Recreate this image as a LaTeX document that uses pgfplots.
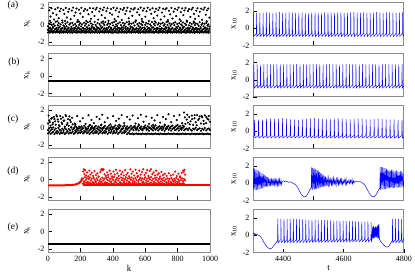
\documentclass[border=0pt]{standalone}
\usepackage{fontspec}
\setmainfont{Liberation Serif}
\usepackage{pgfplots}
\pgfplotsset{compat=1.18}
\usepackage{pgfplotstable}

\pgfplotstableread{
k a b c
0 -0.91 -0.62 -0.2
6 -0.86 -0.45 0.1
12 -0.93 -0.7 -0.35
18 -0.88 -0.52 0.2
24 -0.82 -0.66 -0.05
30 -0.94 -0.4 -0.28
36 -0.89 -0.75 0.05
42 -0.85 -0.56 -0.15
48 -0.92 -0.48 0.3
54 -0.8 -0.68 -0.4
60 -0.9 -0.6 -0.1
66 -0.87 -0.38 0.15
72 -0.95 -0.72 -0.25
78 -0.84 -0.5 0.0
84 -0.91 -0.64 -0.45
90 -0.88 -0.43 0.22
96 -0.93 -0.78 -0.12
102 -0.83 -0.55 -0.3
108 -0.9 -0.46 0.08
114 -0.86 -0.69 -0.2
120 -0.94 -0.58 0.25
126 -0.81 -0.41 -0.38
132 -0.89 -0.74 -0.02
138 -0.92 -0.53 0.12
144 -0.85 -0.63 -0.27
150 -0.95 -0.47 0.18
156 -0.87 -0.7 -0.08
162 -0.82 -0.57 -0.42
168 -0.91 -0.39 0.05
174 -0.88 -0.66 -0.18
180 -0.94 -0.51 0.28
186 -0.84 -0.76 -0.33
192 -0.9 -0.44 -0.05
198 -0.86 -0.61 0.15
204 -0.93 -0.54 -0.22
210 -0.8 -0.71 0.02
216 -0.89 -0.42 -0.4
222 -0.92 -0.65 0.2
228 -0.85 -0.49 -0.13
234 -0.95 -0.73 0.08
240 -0.87 -0.58 -0.3
246 -0.83 -0.45 0.25
252 -0.91 -0.68 -0.1
258 -0.88 -0.52 -0.44
264 -0.94 -0.62 0.12
270 -0.81 -0.4 -0.2
276 -0.9 -0.77 0.0
282 -0.86 -0.55 -0.35
288 -0.93 -0.47 0.3
294 -0.84 -0.67 -0.06
300 -0.89 -0.59 -0.25
306 -0.92 -0.43 0.16
312 -0.85 -0.72 -0.4
318 -0.95 -0.5 0.04
324 -0.87 -0.63 -0.16
330 -0.82 -0.38 0.22
336 -0.91 -0.75 -0.3
342 -0.88 -0.56 0.1
348 -0.94 -0.46 -0.09
354 -0.83 -0.69 0.27
360 -0.9 -0.53 -0.42
366 -0.86 -0.64 -0.03
372 -0.93 -0.41 0.14
378 -0.8 -0.71 -0.23
384 -0.89 -0.57 0.06
390 -0.92 -0.48 -0.37
396 -0.85 -0.66 0.19
402 -0.95 -0.6 -0.12
408 -0.87 -0.44 0.29
414 -0.84 -0.74 -0.28
420 -0.91 -0.51 0.0
426 -0.88 -0.62 -0.19
432 -0.94 -0.39 0.11
438 -0.81 -0.7 -0.41
444 -0.9 -0.55 0.23
450 -0.86 -0.47 -0.07
456 -0.93 -0.67 -0.32
462 -0.83 -0.58 0.17
468 -0.89 -0.42 -0.14
474 -0.92 -0.76 0.07
480 -0.85 -0.52 -0.26
486 -0.95 -0.63 0.26
492 -0.87 -0.45 -0.39
498 -0.82 -0.69 -0.01
504 -0.91 -0.56 0.13
510 -0.88 -0.4 -0.21
516 -0.94 -0.73 0.09
522 -0.84 -0.59 -0.34
528 -0.9 -0.49 0.2
534 -0.86 -0.65 -0.11
540 -0.93 -0.54 0.31
546 -0.8 -0.43 -0.43
552 -0.89 -0.72 0.03
558 -0.92 -0.61 -0.17
564 -0.85 -0.46 0.15
570 -0.95 -0.68 -0.29
576 -0.87 -0.53 0.05
582 -0.83 -0.41 -0.08
588 -0.91 -0.75 0.24
594 -0.88 -0.57 -0.36
600 -0.94 -0.48 -0.04
606 -0.81 -0.66 0.18
612 -0.9 -0.6 -0.24
618 -0.86 -0.44 0.1
624 -0.93 -0.71 -0.4
630 -0.84 -0.52 0.01
636 -0.89 -0.63 -0.15
642 -0.92 -0.39 0.27
648 -0.85 -0.77 -0.31
654 -0.95 -0.55 0.07
660 -0.87 -0.47 -0.1
666 -0.82 -0.67 0.21
672 -0.91 -0.58 -0.38
678 -0.88 -0.42 -0.02
684 -0.94 -0.7 0.14
690 -0.83 -0.51 -0.22
696 -0.9 -0.62 0.08
702 -0.86 -0.45 -0.44
708 -0.93 -0.74 0.19
714 -0.8 -0.56 -0.13
720 -0.89 -0.49 0.04
726 -0.92 -0.65 -0.27
732 -0.85 -0.4 0.28
738 -0.95 -0.72 -0.06
744 -0.87 -0.59 -0.35
750 -0.84 -0.46 0.12
756 -0.91 -0.68 -0.18
762 -0.88 -0.53 0.02
768 -0.94 -0.43 -0.41
774 -0.81 -0.76 0.16
780 -0.9 -0.6 -0.09
786 -0.86 -0.5 0.25
792 -0.93 -0.64 -0.3
798 -0.83 -0.41 0.06
804 -0.89 -0.71 -0.2
810 -0.92 -0.57 0.13
816 -0.85 -0.48 -0.37
822 -0.95 -0.66 0.0
828 -0.87 -0.55 -0.14
834 -0.82 -0.38 0.22
840 -0.91 -0.73 -0.26
846 -0.88 -0.61 0.09
852 -0.94 -0.45 -0.05
858 -0.84 -0.69 0.3
864 -0.9 -0.52 -0.39
870 -0.86 -0.63 -0.11
876 -0.93 -0.42 0.17
882 -0.8 -0.75 -0.23
888 -0.89 -0.58 0.05
894 -0.92 -0.47 -0.33
900 -0.85 -0.67 0.2
906 -0.95 -0.54 -0.08
912 -0.87 -0.4 0.11
918 -0.83 -0.7 -0.42
924 -0.91 -0.56 0.03
930 -0.88 -0.49 -0.16
936 -0.94 -0.65 0.26
942 -0.81 -0.44 -0.3
948 -0.9 -0.74 -0.03
954 -0.86 -0.6 0.14
960 -0.93 -0.51 -0.21
966 -0.84 -0.43 0.07
972 -0.89 -0.68 -0.36
978 -0.92 -0.57 0.18
984 -0.85 -0.46 -0.12
990 -0.95 -0.72 0.01
996 -0.87 -0.53 -0.25
}\bandA

\pgfplotstableread{
k a b c
0 -0.7 -0.3 0.45
8 -0.55 -0.1 0.8
16 -0.74 -0.35 0.2
24 -0.62 -0.2 1.1
32 -0.5 0.0 0.55
40 -0.76 -0.28 0.95
48 -0.58 -0.12 0.3
56 -0.68 -0.4 1.25
64 -0.52 -0.05 0.65
72 -0.72 -0.25 0.15
80 -0.6 -0.38 1.0
88 -0.66 -0.15 0.4
96 -0.54 -0.3 0.75
104 -0.75 -0.08 0.1
112 -0.63 -0.22 1.3
120 -0.48 -0.42 0.5
128 -0.7 -0.18 0.2
136 -0.57 -0.33 0.85
144 -0.65 -0.02 0.05
152 -0.5 -0.26 0.35
160 -0.73 -0.14 -0.05
168 -0.6 -0.37 0.15
176 -0.46 -0.2 0.02
184 -0.68 -0.3 -0.1
192 -0.55 -0.1 0.1
200 -0.62 -0.34 -0.02
208 -0.5 -0.22 0.12
216 -0.7 -0.06 -0.12
224 -0.58 -0.4 0.2
232 -0.45 -0.16 0.0
240 -0.66 -0.28 -0.15
248 -0.53 -0.12 0.08
256 -0.75 -0.35 0.22
264 -0.6 -0.2 -0.06
272 -0.48 -0.04 0.14
280 -0.69 -0.32 -0.1
288 -0.56 -0.18 0.05
296 -0.64 -0.41 0.18
304 -0.5 -0.09 -0.14
312 -0.72 -0.25 0.1
320 -0.59 -0.36 -0.03
328 -0.47 -0.13 0.24
336 -0.67 -0.29 -0.08
344 -0.54 -0.07 0.06
352 -0.63 -0.38 0.16
360 -0.49 -0.21 -0.12
368 -0.74 -0.11 0.02
376 -0.57 -0.33 0.2
384 -0.61 -0.17 -0.05
392 -0.46 -0.27 0.11
400 -0.7 -0.03 -0.16
408 -0.55 -0.39 0.07
416 -0.65 -0.14 0.23
424 -0.51 -0.3 -0.09
432 -0.73 -0.19 0.13
440 -0.58 -0.06 0.0
448 -0.48 -0.34 0.17
456 -0.68 -0.23 -0.13
464 -0.56 -0.1 0.09
472 -0.62 -0.37 0.21
480 -0.5 -0.15 -0.04
488 -0.76 -0.26 0.12
496 -0.6 -0.08 -0.1
504 -0.72 -0.4 0.04
512 -0.75 -0.2 0.19
520 -0.7 -0.12 -0.07
528 -0.77 -0.31 0.08
536 -0.73 -0.05 0.15
544 -0.68 -0.27 -0.12
552 -0.76 -0.16 0.03
560 -0.71 -0.36 0.2
568 -0.74 -0.09 -0.05
576 -0.78 -0.24 0.1
584 -0.69 -0.33 -0.14
592 -0.75 -0.13 0.06
600 -0.72 -0.02 0.22
608 -0.77 -0.29 -0.08
616 -0.7 -0.18 0.13
624 -0.74 -0.38 0.01
632 -0.76 -0.07 -0.11
640 -0.71 -0.22 0.17
648 -0.78 -0.34 -0.02
656 -0.73 -0.11 0.09
664 -0.69 -0.26 0.24
672 -0.75 -0.04 -0.13
680 -0.72 -0.35 0.05
688 -0.77 -0.19 0.14
696 -0.7 -0.09 -0.06
704 -0.74 -0.3 0.11
712 -0.76 -0.14 0.0
720 -0.71 -0.39 0.19
728 -0.78 -0.21 -0.1
736 -0.73 -0.06 0.07
744 -0.69 -0.28 0.16
752 -0.75 -0.12 -0.04
760 -0.72 -0.37 0.12
768 -0.77 -0.17 0.21
776 -0.7 -0.03 -0.09
784 -0.74 -0.32 0.04
792 -0.76 -0.23 0.18
800 -0.71 -0.1 -0.12
808 -0.78 -0.36 0.08
816 -0.73 -0.15 0.15
824 -0.75 -0.27 -0.03
832 -0.7 -0.05 0.23
840 -0.77 -0.33 0.1
848 -0.72 -0.2 0.4
856 -0.76 -0.12 0.9
864 -0.71 -0.3 0.55
872 -0.74 -0.08 1.2
880 -0.78 -0.25 0.7
888 -0.7 -0.36 1.35
896 -0.75 -0.14 0.3
904 -0.73 -0.22 1.05
912 -0.77 -0.04 0.6
920 -0.71 -0.31 1.4
928 -0.76 -0.18 0.85
936 -0.72 -0.1 1.25
944 -0.75 -0.38 0.45
952 -0.7 -0.16 1.15
960 -0.78 -0.26 0.75
968 -0.73 -0.06 1.38
976 -0.76 -0.34 0.5
984 -0.71 -0.2 1.0
992 -0.74 -0.12 1.3
1000 -0.77 -0.28 0.65
}\bandC

\pgfplotstableread{
k a b
216 -0.5 0.1
222 -0.42 -0.2
228 -0.58 0.25
234 -0.35 -0.05
240 -0.55 0.15
246 -0.45 -0.28
252 -0.6 0.05
258 -0.38 0.22
264 -0.52 -0.12
270 -0.48 0.08
276 -0.61 -0.3
282 -0.4 0.18
288 -0.56 -0.02
294 -0.33 -0.22
300 -0.5 0.12
306 -0.59 -0.08
312 -0.44 0.27
318 -0.54 -0.18
324 -0.37 0.03
330 -0.6 -0.26
336 -0.47 0.2
342 -0.53 -0.1
348 -0.41 0.1
354 -0.58 -0.32
360 -0.46 0.16
366 -0.36 -0.04
372 -0.55 0.24
378 -0.49 -0.16
384 -0.62 0.06
390 -0.39 -0.24
396 -0.51 0.14
402 -0.57 -0.06
408 -0.43 0.28
414 -0.6 -0.2
420 -0.34 0.0
426 -0.52 0.19
432 -0.48 -0.13
438 -0.59 0.09
444 -0.4 -0.29
450 -0.55 0.22
456 -0.45 -0.07
462 -0.61 0.13
468 -0.37 -0.19
474 -0.5 0.04
480 -0.56 0.26
486 -0.42 -0.11
492 -0.58 0.11
498 -0.47 -0.27
504 -0.35 0.17
510 -0.54 -0.03
516 -0.6 0.23
522 -0.44 -0.15
528 -0.51 0.07
534 -0.38 -0.23
540 -0.57 0.15
546 -0.46 -0.05
552 -0.62 0.29
558 -0.41 -0.17
564 -0.53 0.02
570 -0.49 0.2
576 -0.59 -0.1
582 -0.36 0.12
588 -0.55 -0.25
594 -0.45 0.06
600 -0.6 0.24
606 -0.39 -0.14
612 -0.52 0.1
618 -0.48 -0.21
624 -0.58 0.18
630 -0.43 -0.01
636 -0.35 0.27
642 -0.56 -0.12
648 -0.5 0.08
654 -0.61 -0.28
660 -0.4 0.16
666 -0.54 -0.06
672 -0.46 0.21
678 -0.59 -0.18
684 -0.37 0.03
690 -0.53 0.13
696 -0.47 -0.24
702 -0.6 0.05
708 -0.42 -0.09
714 -0.55 0.19
720 -0.5 -0.2
726 -0.62 0.0
732 -0.38 -0.3
738 -0.57 0.11
744 -0.44 -0.15
750 -0.51 0.07
756 -0.6 -0.26
762 -0.41 0.14
768 -0.56 -0.04
774 -0.48 -0.22
780 -0.59 0.09
786 -0.36 -0.12
792 -0.53 0.17
798 -0.45 -0.27
804 -0.61 0.02
810 -0.4 -0.16
816 -0.55 0.22
822 -0.49 -0.08
828 -0.58 0.12
834 -0.43 -0.2
840 -0.52 0.06
846 -0.6 -0.1
}\bandD

\pgfplotsset{
  base/.style={scale only axis, height=43pt,
    axis line style={black!45, line width=1pt},
    tick style={black, line width=0.5pt},
    tick align=inside, xtick pos=bottom, ytick pos=left,
    major tick length=4pt,
    tick label style={font=\fontsize{8}{9}\selectfont},
    label style={font=\fontsize{9}{10}\selectfont},
    /pgf/number format/assume math mode=true,
    /pgf/number format/1000 sep={},
    ytick={-2,0,2}},
  L/.style={base, width=162pt, xmin=0, xmax=1000, ymin=-2.4, ymax=2.5,
    xtick={0,200,...,1000},
    ylabel={x\textsubscript{k}},
    ylabel style={at={(axis description cs:-0.13,0.5)}, anchor=center},
    xlabel style={at={(axis description cs:0.5,-0.36)}, anchor=center}},
  R/.style={base, width=151pt, xmin=4300, xmax=4800, ymin=-2, ymax=3,
    ylabel={x\textsubscript{10}},
    ylabel style={at={(axis description cs:-0.125,0.5)}, anchor=center},
    xlabel style={at={(axis description cs:0.5,-0.36)}, anchor=center}},
  dots/.style={only marks, color=#1, mark=*, mark size=0.85pt, mark options={draw=none, fill=#1}},
  spk/.style={blue, line width=0.45pt, no marks}
}

\begin{document}
\begin{tikzpicture}
\tikzset{lab/.style={font=\fontsize{9.5}{10}\selectfont}}
\node[lab] at (13pt,-5pt) {(a)};
\node[lab] at (14pt,-62pt) {(b)};
\node[lab] at (13pt,-119pt) {(c)};
\node[lab] at (13pt,-171pt) {(d)};
\node[lab] at (13pt,-227pt) {(e)};

% ---------- (a) left
\begin{axis}[L, at={(48pt,-2.5pt)}, anchor=north west, xticklabels={}]
\addplot[dots=black] table[x=k,y=a]{\bandA};
\addplot[dots=black] table[x=k,y=b]{\bandA};
\addplot[dots=black] table[x=k,y=c]{\bandA};
\addplot[dots=black] coordinates {(8,1.6)(15,0.9)(22,1.85)(30,1.3)(37,0.55)(45,1.72)(52,1.1)(60,1.9)(66,0.7)(73,1.5)(80,1.8)(88,0.45)(95,1.65)(101,1.2)(110,1.88)(117,0.8)(125,1.45)(131,1.75)(140,0.6)(147,1.58)(155,1.92)(162,1.0)(170,1.35)(176,1.82)(184,0.5)(191,1.68)(199,1.25)(206,1.9)(214,0.85)(221,1.55)(229,1.78)(236,0.4)(243,1.62)(250,1.15)(258,1.86)(265,0.65)(272,1.4)(279,1.83)(287,0.95)(294,1.7)(301,1.9)(309,0.55)(316,1.48)(323,1.8)(331,1.05)(338,1.64)(345,1.93)(352,0.75)(360,1.52)(367,1.85)(374,0.42)(382,1.3)(389,1.77)(396,1.12)(404,1.9)(411,0.6)(418,1.6)(426,1.84)(433,0.9)(440,1.42)(447,1.76)(455,0.5)(462,1.66)(469,1.88)(477,1.18)(484,1.55)(491,1.9)(498,0.7)(506,1.47)(513,1.8)(520,0.98)(528,1.7)(535,1.87)(542,0.46)(550,1.38)(557,1.74)(564,1.08)(572,1.92)(579,0.62)(586,1.58)(593,1.82)(601,0.88)(608,1.5)(615,1.9)(623,0.4)(630,1.68)(637,1.22)(645,1.85)(652,0.72)(659,1.44)(667,1.79)(674,1.02)(681,1.63)(688,1.91)(696,0.55)(703,1.36)(710,1.8)(718,0.92)(725,1.72)(732,1.86)(740,0.48)(747,1.56)(754,1.14)(762,1.89)(769,0.68)(776,1.46)(784,1.78)(791,0.96)(798,1.66)(806,1.92)(813,0.58)(820,1.4)(828,1.83)(835,1.06)(842,1.6)(849,1.88)(857,0.44)(864,1.52)(871,1.76)(879,0.86)(886,1.7)(893,1.9)(901,1.2)(908,0.64)(915,1.57)(923,1.84)(930,0.94)(937,1.45)(945,1.8)(952,0.52)(959,1.69)(967,1.91)(974,1.1)(981,1.6)(989,1.82)(996,0.78)(12,0.4)(57,0.35)(105,0.38)(190,0.32)(260,0.36)(340,0.34)(420,0.4)(500,0.33)(580,0.37)(660,0.35)(740,0.32)(820,0.38)(900,0.34)(980,0.36)};
\end{axis}

% ---------- (b) left
\begin{axis}[L, at={(48pt,-54pt)}, anchor=north west, xticklabels={}]
\addplot[black, line width=2.4pt, no marks] coordinates {(0,-0.6)(1000,-0.6)};
\end{axis}

% ---------- (c) left
\begin{axis}[L, at={(48pt,-105.5pt)}, anchor=north west, xticklabels={}]
\addplot[dots=black] table[x=k,y=a]{\bandC};
\addplot[dots=black] table[x=k,y=b]{\bandC};
\addplot[dots=black] table[x=k,y=c]{\bandC};
\addplot[dots=black] coordinates {(4,1.35)(12,0.6)(20,1.0)(28,0.35)(36,1.2)(44,0.7)(52,1.4)(60,0.9)(68,0.25)(76,1.3)(84,0.55)(92,1.15)(100,0.8)(108,1.42)(116,0.3)(124,0.95)(132,1.25)(140,0.62)(148,1.1)(165,0.45)(180,1.3)(198,0.7)(215,1.05)(232,0.4)(250,1.38)(268,0.85)(283,0.5)(300,1.2)(318,0.95)(335,1.45)(350,0.6)(368,1.1)(385,0.35)(402,1.3)(420,0.75)(437,1.0)(455,1.4)(470,0.5)(488,1.2)(505,0.9)(522,1.35)(540,0.45)(556,1.05)(573,1.45)(590,0.65)(607,1.25)(624,0.4)(640,1.1)(658,0.8)(675,1.4)(692,0.55)(710,1.2)(727,0.95)(744,1.5)(760,0.6)(778,1.3)(795,0.85)(812,1.42)(828,0.5)(845,1.15)(860,1.45)(875,0.35)(890,0.95)(905,1.4)(918,0.25)(933,1.0)(948,1.32)(962,0.4)(977,1.2)(990,0.9)(170,0.3)(260,0.28)(330,0.32)(440,0.3)(560,0.35)(650,0.3)(720,0.33)(800,0.28)(840,1.7)};
\end{axis}

% ---------- (d) left
\begin{axis}[L, at={(48pt,-157.5pt)}, anchor=north west, xticklabels={}]
\addplot[red, line width=2pt, no marks] coordinates {(0,-0.68)(120,-0.66)(150,-0.63)(170,-0.57)(185,-0.47)(195,-0.36)(203,-0.2)(209,0.0)(213,0.2)};
\addplot[red, line width=2pt, no marks] coordinates {(213,-0.66)(1000,-0.66)};
\addplot[dots=red] table[x=k,y=a]{\bandD};
\addplot[dots=red] table[x=k,y=b]{\bandD};
\addplot[dots=red] coordinates {(218,0.9)(221,1.15)(225,0.6)(230,1.05)(236,0.45)(242,0.8)(249,0.35)(255,1.0)(262,0.55)(270,0.75)(279,0.4)(287,0.95)(296,0.5)(305,0.7)(313,0.35)(322,0.85)(328,1.1)(333,1.2)(338,1.05)(343,1.15)(349,0.6)(357,0.4)(365,0.8)(372,0.5)(380,1.0)(388,0.65)(395,0.35)(404,0.9)(412,0.55)(420,1.1)(428,0.7)(436,0.4)(444,1.0)(452,0.6)(460,0.85)(468,0.45)(476,1.05)(484,0.55)(492,0.75)(500,0.35)(508,1.15)(516,0.65)(524,0.9)(532,0.45)(540,1.1)(548,0.7)(556,0.4)(564,1.0)(572,0.55)(580,0.85)(588,1.15)(596,0.5)(604,0.75)(612,1.05)(620,0.4)(628,0.95)(636,1.15)(644,0.6)(652,0.8)(660,0.45)(668,1.0)(676,0.55)(684,0.7)(692,0.35)(700,0.85)(710,0.5)(720,0.65)(732,0.4)(745,0.7)(758,0.45)(772,0.55)(785,0.9)(795,0.4)(805,0.65)(815,0.35)(825,0.75)(833,1.0)(838,0.85)(842,1.1)(846,0.55)};
\end{axis}

% ---------- (e) left
\begin{axis}[L, at={(48pt,-209.5pt)}, anchor=north west, xlabel={k}]
\addplot[black, line width=2.4pt, no marks] coordinates {(0,-1.45)(1000,-1.45)};
\end{axis}

% ---------- (a) right
\begin{axis}[R, at={(253pt,-2.5pt)}, anchor=north west, xtick={4500}, xticklabels={}]
\addplot[spk] coordinates {(4300,-0.65)(4300.5,-0.6)(4301,1.85)(4302.2,-0.95)(4311.3,-0.6)(4311.8,1.8)(4313,-0.95)(4322,-0.6)(4322.5,1.78)(4323.7,-0.95)(4332.8,-0.6)(4333.3,1.82)(4334.5,-0.95)(4343.5,-0.6)(4344,1.86)(4345.2,-0.95)(4354.3,-0.6)(4354.8,1.8)(4356,-0.95)(4365,-0.6)(4365.5,1.75)(4366.7,-0.95)(4375.8,-0.6)(4376.3,1.83)(4377.5,-0.95)(4386.5,-0.6)(4387,1.88)(4388.2,-0.95)(4397.3,-0.6)(4397.8,1.8)(4399,-0.95)(4408,-0.6)(4408.5,1.79)(4409.7,-0.95)(4418.8,-0.6)(4419.3,1.84)(4420.5,-0.95)(4429.5,-0.6)(4430,1.86)(4431.2,-0.95)(4440.3,-0.6)(4440.8,1.78)(4442,-0.95)(4451,-0.6)(4451.5,1.8)(4452.7,-0.95)(4461.8,-0.6)(4462.3,1.85)(4463.5,-0.95)(4472.5,-0.6)(4473,1.82)(4474.2,-0.95)(4483.3,-0.6)(4483.8,1.77)(4485,-0.95)(4494,-0.6)(4494.5,1.86)(4495.7,-0.95)(4504.8,-0.6)(4505.3,1.9)(4506.5,-0.95)(4515.5,-0.6)(4516,1.81)(4517.2,-0.95)(4526.3,-0.6)(4526.8,1.79)(4528,-0.95)(4537,-0.6)(4537.5,1.84)(4538.7,-0.95)(4547.8,-0.6)(4548.3,1.87)(4549.5,-0.95)(4558.5,-0.6)(4559,1.8)(4560.2,-0.95)(4569.3,-0.6)(4569.8,1.78)(4571,-0.95)(4580,-0.6)(4580.5,1.83)(4581.7,-0.95)(4590.8,-0.6)(4591.3,1.86)(4592.5,-0.95)(4601.5,-0.6)(4602,1.8)(4603.2,-0.95)(4612.3,-0.6)(4612.8,1.76)(4614,-0.95)(4623,-0.6)(4623.5,1.84)(4624.7,-0.95)(4633.8,-0.6)(4634.3,1.88)(4635.5,-0.95)(4644.5,-0.6)(4645,1.82)(4646.2,-0.95)(4655.3,-0.6)(4655.8,1.79)(4657,-0.95)(4666,-0.6)(4666.5,1.85)(4667.7,-0.95)(4676.8,-0.6)(4677.3,1.8)(4678.5,-0.95)(4687.5,-0.6)(4688,1.77)(4689.2,-0.95)(4698.3,-0.6)(4698.8,1.83)(4700,-0.95)(4709,-0.6)(4709.5,1.87)(4710.7,-0.95)(4719.8,-0.6)(4720.3,1.81)(4721.5,-0.95)(4730.5,-0.6)(4731,1.79)(4732.2,-0.95)(4741.3,-0.6)(4741.8,1.84)(4743,-0.95)(4752,-0.6)(4752.5,1.86)(4753.7,-0.95)(4762.8,-0.6)(4763.3,1.8)(4764.5,-0.95)(4773.5,-0.6)(4774,1.78)(4775.2,-0.95)(4784.3,-0.6)(4784.8,1.82)(4786,-0.95)(4795,-0.6)(4795.5,1.85)(4796.7,-0.95)(4800,-0.75)};
\end{axis}

% ---------- (b) right
\begin{axis}[R, at={(253pt,-54pt)}, anchor=north west, xtick={4500}, xticklabels={}]
\addplot[spk] coordinates {(4300,-0.8)(4302.5,-0.62)(4303,1.78)(4304.2,-0.95)(4313.4,-0.62)(4313.9,1.8)(4315.1,-0.95)(4324.3,-0.62)(4324.8,1.76)(4326,-0.95)(4335.2,-0.62)(4335.7,1.79)(4336.9,-0.95)(4346.1,-0.62)(4346.6,1.82)(4347.8,-0.95)(4357,-0.62)(4357.5,1.77)(4358.7,-0.95)(4367.9,-0.62)(4368.4,1.8)(4369.6,-0.95)(4378.8,-0.62)(4379.3,1.78)(4380.5,-0.95)(4389.7,-0.62)(4390.2,1.81)(4391.4,-0.95)(4400.6,-0.62)(4401.1,1.76)(4402.3,-0.95)(4411.5,-0.62)(4412,1.79)(4413.2,-0.95)(4422.4,-0.62)(4422.9,1.8)(4424.1,-0.95)(4433.3,-0.62)(4433.8,1.77)(4435,-0.95)(4444.2,-0.62)(4444.7,1.82)(4445.9,-0.95)(4455.1,-0.62)(4455.6,1.78)(4456.8,-0.95)(4466,-0.62)(4466.5,1.8)(4467.7,-0.95)(4476.9,-0.62)(4477.4,1.76)(4478.6,-0.95)(4487.8,-0.62)(4488.3,1.79)(4489.5,-0.95)(4498.7,-0.62)(4499.2,1.81)(4500.4,-0.95)(4509.6,-0.62)(4510.1,1.78)(4511.3,-0.95)(4520.5,-0.62)(4521,1.8)(4522.2,-0.95)(4531.4,-0.62)(4531.9,1.77)(4533.1,-0.95)(4542.3,-0.62)(4542.8,1.79)(4544,-0.95)(4553.2,-0.62)(4553.7,1.82)(4554.9,-0.95)(4564.1,-0.62)(4564.6,1.78)(4565.8,-0.95)(4575,-0.62)(4575.5,1.8)(4576.7,-0.95)(4585.9,-0.62)(4586.4,1.76)(4587.6,-0.95)(4596.8,-0.62)(4597.3,1.79)(4598.5,-0.95)(4607.7,-0.62)(4608.2,1.81)(4609.4,-0.95)(4618.6,-0.62)(4619.1,1.77)(4620.3,-0.95)(4629.5,-0.62)(4630,1.8)(4631.2,-0.95)(4640.4,-0.62)(4640.9,1.78)(4642.1,-0.95)(4651.3,-0.62)(4651.8,1.79)(4653,-0.95)(4662.2,-0.62)(4662.7,1.82)(4663.9,-0.95)(4673.1,-0.62)(4673.6,1.77)(4674.8,-0.95)(4684,-0.62)(4684.5,1.8)(4685.7,-0.95)(4694.9,-0.62)(4695.4,1.78)(4696.6,-0.95)(4705.8,-0.62)(4706.3,1.76)(4707.5,-0.95)(4716.7,-0.62)(4717.2,1.8)(4718.4,-0.95)(4727.6,-0.62)(4728.1,1.79)(4729.3,-0.95)(4738.5,-0.62)(4739,1.81)(4740.2,-0.95)(4749.4,-0.62)(4749.9,1.78)(4751.1,-0.95)(4760.3,-0.62)(4760.8,1.8)(4762,-0.95)(4771.2,-0.62)(4771.7,1.77)(4772.9,-0.95)(4782.1,-0.62)(4782.6,1.79)(4783.8,-0.95)(4793,-0.62)(4793.5,1.8)(4794.7,-0.95)(4800,-0.7)};
\end{axis}

% ---------- (c) right
\begin{axis}[R, at={(253pt,-105.5pt)}, anchor=north west, xtick={4500}, xticklabels={}]
\addplot[spk] coordinates {(4300,-0.6)(4304.4,-0.5)(4305,1.35)(4306.4,-0.78)(4317.6,-0.5)(4318.2,1.4)(4319.6,-0.78)(4330.8,-0.5)(4331.4,1.38)(4332.8,-0.78)(4344,-0.5)(4344.6,1.45)(4346,-0.78)(4357.2,-0.5)(4357.8,1.5)(4359.2,-0.78)(4370.4,-0.5)(4371,1.42)(4372.4,-0.78)(4383.6,-0.5)(4384.2,1.48)(4385.6,-0.78)(4396.8,-0.5)(4397.4,1.52)(4398.8,-0.78)(4410,-0.5)(4410.6,1.45)(4412,-0.78)(4423.2,-0.5)(4423.8,1.4)(4425.2,-0.78)(4436.4,-0.5)(4437,1.35)(4438.4,-0.78)(4449.6,-0.5)(4450.2,1.3)(4451.6,-0.78)(4462.8,-0.5)(4463.4,1.38)(4464.8,-0.78)(4476,-0.5)(4476.6,1.45)(4478,-0.78)(4489.2,-0.5)(4489.8,1.5)(4491.2,-0.78)(4502.4,-0.5)(4503,1.55)(4504.4,-0.78)(4515.6,-0.5)(4516.2,1.48)(4517.6,-0.78)(4528.8,-0.5)(4529.4,1.42)(4530.8,-0.78)(4542,-0.5)(4542.6,1.4)(4544,-0.78)(4555.2,-0.5)(4555.8,1.45)(4557.2,-0.78)(4568.4,-0.5)(4569,1.5)(4570.4,-0.78)(4581.6,-0.5)(4582.2,1.52)(4583.6,-0.78)(4594.8,-0.5)(4595.4,1.47)(4596.8,-0.78)(4608,-0.5)(4608.6,1.42)(4610,-0.78)(4621.2,-0.5)(4621.8,1.38)(4623.2,-0.78)(4634.4,-0.5)(4635,1.44)(4636.4,-0.78)(4647.6,-0.5)(4648.2,1.5)(4649.6,-0.78)(4660.8,-0.5)(4661.4,1.46)(4662.8,-0.78)(4674,-0.5)(4674.6,1.4)(4676,-0.78)(4687.2,-0.5)(4687.8,1.36)(4689.2,-0.78)(4700.4,-0.5)(4701,1.42)(4702.4,-0.78)(4713.6,-0.5)(4714.2,1.48)(4715.6,-0.78)(4726.8,-0.5)(4727.4,1.45)(4728.8,-0.78)(4740,-0.5)(4740.6,1.4)(4742,-0.78)(4753.2,-0.5)(4753.8,1.35)(4755.2,-0.78)(4766.4,-0.5)(4767,1.38)(4768.4,-0.78)(4779.6,-0.5)(4780.2,1.32)(4781.6,-0.78)(4792.8,-0.5)(4793.4,1.36)(4794.8,-0.78)(4800,-0.62)};
\end{axis}

% ---------- (d) right
\begin{axis}[R, at={(253pt,-157.5pt)}, anchor=north west, xtick={4500}, xticklabels={}]
\addplot[spk] coordinates {(4300,-0.5)(4301,1.75)(4302.5,-0.8)(4305.2,1.7)(4306.7,-0.78)(4309.4,1.62)(4310.9,-0.75)(4313.6,1.55)(4315.1,-0.72)(4317.8,1.45)(4319.3,-0.7)(4322,1.35)(4323.5,-0.65)(4326.2,1.25)(4327.7,-0.6)(4330.4,1.15)(4331.9,-0.55)(4334.6,1.05)(4336.1,-0.5)(4338.8,0.95)(4340.3,-0.45)(4343,0.85)(4344.5,-0.4)(4347.2,0.75)(4348.7,-0.35)(4352,0.65)(4353.5,-0.35)(4356.5,0.55)(4358,-0.3)(4361,0.6)(4362.5,-0.32)(4365.5,0.5)(4367,-0.28)(4370,0.6)(4371.5,-0.3)(4374.5,0.45)(4376,-0.25)(4379,0.55)(4380.5,-0.27)(4383.5,0.4)(4385,-0.2)(4388,0.5)(4389.5,-0.22)(4392.5,0.35)(4394,-0.15)(4397,0.2)(4402,0.3)(4407,0.15)(4412,0.22)(4418,0.12)(4424,0.18)(4430,0.05)(4436,-0.05)(4442,-0.2)(4448,-0.5)(4454,-0.9)(4460,-1.3)(4466,-1.52)(4471,-1.57)(4476,-1.5)(4481,-1.25)(4486,-0.9)(4490,-0.65)(4493,-0.5)(4494,1.85)(4495.5,-0.75)(4497.8,1.82)(4499.3,-0.72)(4501.6,1.75)(4503.1,-0.7)(4505.4,1.7)(4506.9,-0.68)(4509.2,1.6)(4510.7,-0.65)(4513,1.5)(4514.5,-0.6)(4516.8,1.4)(4518.3,-0.55)(4520.6,1.3)(4522.1,-0.5)(4524.4,1.2)(4525.9,-0.45)(4528.2,1.1)(4529.7,-0.4)(4532,1.0)(4533.5,-0.38)(4535.8,0.9)(4537.3,-0.35)(4540,0.8)(4541.5,-0.35)(4544,0.6)(4545.5,-0.3)(4549,0.95)(4550.5,-0.4)(4553,0.5)(4554.5,-0.2)(4558,0.7)(4559.5,-0.3)(4562,0.45)(4563.5,-0.15)(4567,0.65)(4568.5,-0.25)(4571,0.4)(4572.5,-0.1)(4576,0.55)(4577.5,-0.2)(4581,0.7)(4582.5,-0.3)(4585,0.35)(4586.5,-0.05)(4590,0.5)(4591.5,-0.15)(4594,0.6)(4595.5,-0.2)(4599,0.3)(4600.5,0.0)(4604,0.45)(4605.5,-0.1)(4608,0.55)(4609.5,-0.15)(4613,0.25)(4614.5,0.05)(4618,0.4)(4619.5,-0.05)(4623,0.35)(4624.5,0.0)(4628,0.5)(4629.5,-0.1)(4633,0.3)(4634.5,0.05)(4637,0.2)(4642,0.25)(4648,0.15)(4654,0.2)(4660,0.1)(4666,-0.05)(4672,-0.3)(4678,-0.7)(4684,-1.1)(4690,-1.42)(4696,-1.57)(4701,-1.55)(4706,-1.4)(4711,-1.1)(4716,-0.75)(4720,-0.55)(4721,1.9)(4722.5,-0.75)(4725.2,1.88)(4726.7,-0.72)(4729.4,1.85)(4730.9,-0.7)(4733.6,1.8)(4735.1,-0.68)(4737.8,1.75)(4739.3,-0.65)(4742,1.7)(4743.5,-0.62)(4746.2,1.6)(4747.7,-0.6)(4750.4,1.5)(4751.9,-0.55)(4754.6,1.45)(4756.1,-0.5)(4758.8,1.6)(4760.3,-0.58)(4763,1.55)(4764.5,-0.55)(4767.2,1.45)(4768.7,-0.5)(4771.4,1.35)(4772.9,-0.45)(4775.6,1.5)(4777.1,-0.52)(4779.8,1.4)(4781.3,-0.48)(4784,1.3)(4785.5,-0.45)(4788.2,1.45)(4789.7,-0.5)(4792.4,1.35)(4793.9,-0.45)(4796.6,1.25)(4798.1,-0.42)(4800,0.3)};
\end{axis}

% ---------- (e) right
\begin{axis}[R, at={(253pt,-209.5pt)}, anchor=north west, xtick={4400,4600,4800}, xlabel={t}]
\addplot[spk] coordinates {(4300,0.15)(4302,0.25)(4304,0.1)(4306,0.22)(4308,0.05)(4311,0.15)(4315,0.05)(4320,0.0)(4328,-0.3)(4335,-0.75)(4342,-1.15)(4349,-1.45)(4356,-1.57)(4362,-1.5)(4368,-1.25)(4374,-0.95)(4379,-0.75)(4381.5,-0.6)(4382,1.95)(4383.3,-0.85)(4391.8,-0.5)(4392.3,1.95)(4393.6,-0.85)(4402.1,-0.5)(4402.6,1.93)(4403.9,-0.85)(4412.4,-0.5)(4412.9,1.92)(4414.2,-0.85)(4422.7,-0.5)(4423.2,1.9)(4424.5,-0.85)(4433,-0.5)(4433.5,1.9)(4434.8,-0.85)(4443.3,-0.5)(4443.8,1.88)(4445.1,-0.85)(4453.6,-0.5)(4454.1,1.86)(4455.4,-0.85)(4463.9,-0.5)(4464.4,1.85)(4465.7,-0.85)(4474.2,-0.5)(4474.7,1.84)(4476,-0.85)(4484.5,-0.5)(4485,1.82)(4486.3,-0.8)(4494.8,-0.5)(4495.3,1.8)(4496.6,-0.8)(4505.1,-0.5)(4505.6,1.8)(4506.9,-0.8)(4515.4,-0.5)(4515.9,1.78)(4517.2,-0.8)(4525.7,-0.5)(4526.2,1.76)(4527.5,-0.8)(4536,-0.5)(4536.5,1.75)(4537.8,-0.8)(4546.3,-0.5)(4546.8,1.74)(4548.1,-0.8)(4556.6,-0.5)(4557.1,1.72)(4558.4,-0.8)(4566.9,-0.5)(4567.4,1.7)(4568.7,-0.8)(4577.2,-0.5)(4577.7,1.7)(4579,-0.8)(4587.5,-0.45)(4588,1.68)(4589.3,-0.75)(4597.8,-0.45)(4598.3,1.67)(4599.6,-0.75)(4608.1,-0.45)(4608.6,1.66)(4609.9,-0.75)(4618.4,-0.45)(4618.9,1.65)(4620.2,-0.75)(4628.7,-0.45)(4629.2,1.64)(4630.5,-0.75)(4639,-0.45)(4639.5,1.63)(4640.8,-0.75)(4649.3,-0.45)(4649.8,1.62)(4651.1,-0.75)(4659.6,-0.45)(4660.1,1.6)(4661.4,-0.75)(4669.9,-0.45)(4670.4,1.6)(4671.7,-0.75)(4680.2,-0.45)(4680.7,1.58)(4682,-0.75)(4690.5,-0.45)(4691,1.5)(4692.3,-0.7)(4694,-0.5)(4696,1.0)(4697.5,-0.4)(4699,1.1)(4700.5,-0.3)(4702,0.9)(4703.5,-0.3)(4705,1.05)(4706.5,-0.2)(4708,0.95)(4709.5,-0.25)(4711,1.1)(4712.5,-0.3)(4714,1.2)(4715.5,-0.4)(4717,1.3)(4718.5,-0.5)(4721,-0.6)(4726,-0.85)(4732,-1.1)(4738,-1.3)(4743,-1.38)(4749,-1.3)(4754,-1.05)(4758,-0.8)(4761.5,-0.6)(4762,1.9)(4763.3,-0.85)(4771.5,-0.5)(4772,1.92)(4773.3,-0.85)(4781.5,-0.5)(4782,1.9)(4783.3,-0.85)(4791.5,-0.5)(4792,1.88)(4793.3,-0.85)(4800,-0.4)};
\end{axis}

\pgfresetboundingbox
\path (0,0) rectangle (415pt,-275pt);
\end{tikzpicture}
\end{document}
